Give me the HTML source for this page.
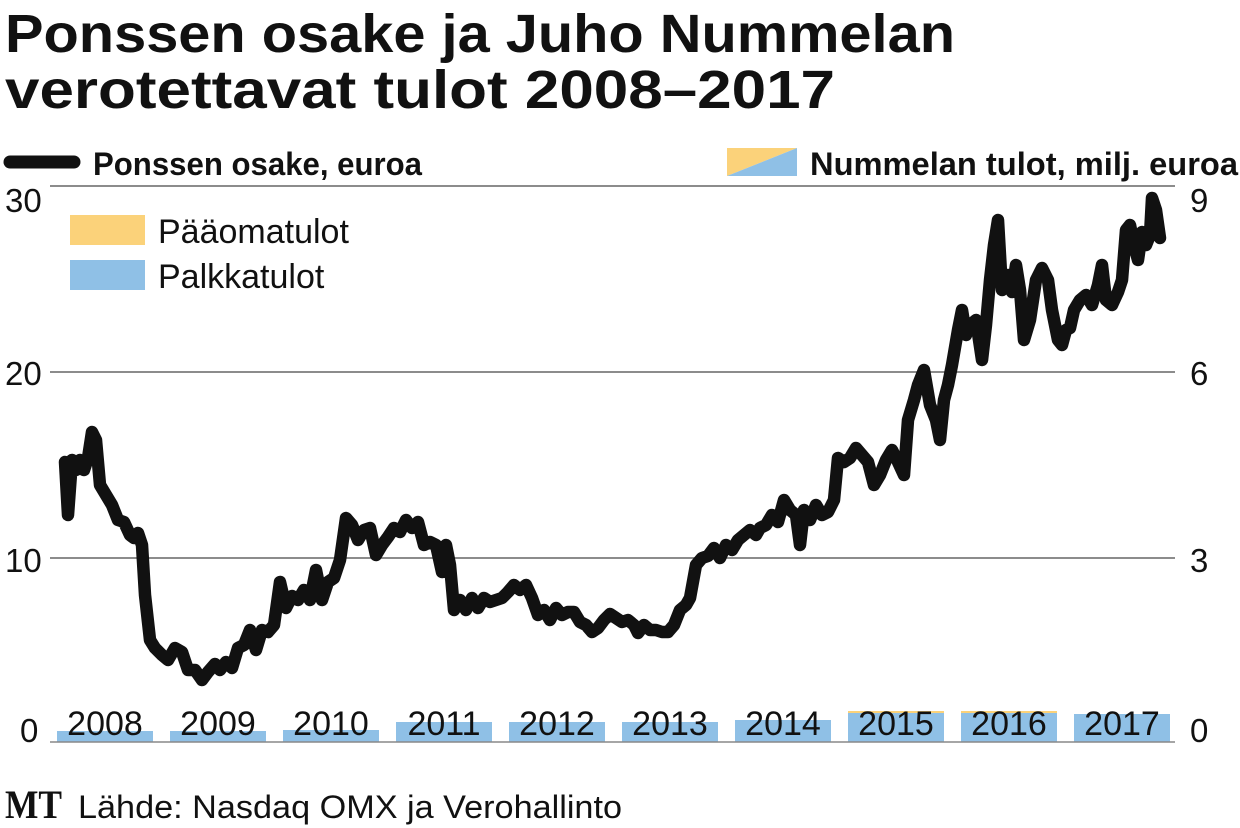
<!DOCTYPE html>
<html><head><meta charset="utf-8"><style>
html,body{margin:0;padding:0;background:#fff;}
svg{display:block;}
text{font-family:"Liberation Sans",sans-serif;fill:#111;}
</style></head><body>
<svg width="1240" height="828" viewBox="0 0 1240 828" xmlns="http://www.w3.org/2000/svg">
<text x="5" y="52" font-size="54" font-weight="bold" textLength="950" lengthAdjust="spacingAndGlyphs">Ponssen osake ja Juho Nummelan</text>
<text x="5" y="108" font-size="54" font-weight="bold" textLength="830" lengthAdjust="spacingAndGlyphs">verotettavat tulot 2008–2017</text>
<line x1="10" y1="162" x2="74" y2="162" stroke="#111" stroke-width="13" stroke-linecap="round"/>
<text x="93" y="175" font-size="32" font-weight="bold" textLength="329" lengthAdjust="spacingAndGlyphs">Ponssen osake, euroa</text>
<polygon points="727,148 797,148 727,176" fill="#fbd27a"/>
<polygon points="797,148 797,176 727,176" fill="#8fc0e6"/>
<text x="810" y="175" font-size="32" font-weight="bold" textLength="428" lengthAdjust="spacingAndGlyphs">Nummelan tulot, milj. euroa</text>
<g stroke="#666" stroke-width="1.5">
<line x1="50" y1="186" x2="1175" y2="186"/>
<line x1="50" y1="372" x2="1175" y2="372"/>
<line x1="50" y1="558" x2="1175" y2="558"/>
</g>
<g font-size="33">
<text x="5" y="212">30</text><text x="5" y="385">20</text><text x="5" y="572">10</text><text x="20" y="742">0</text>
<text x="1190" y="212">9</text><text x="1190" y="385">6</text><text x="1190" y="572">3</text><text x="1190" y="742">0</text>
</g>
<rect x="70" y="215" width="75" height="30" fill="#fbd27a"/>
<text x="158" y="243" font-size="34">Pääomatulot</text>
<rect x="70" y="260" width="75" height="30" fill="#8fc0e6"/>
<text x="158" y="288" font-size="34">Palkkatulot</text>
<g fill="#8fc0e6">
<rect x="57" y="731" width="96" height="11"/>
<rect x="170" y="731" width="96" height="11"/>
<rect x="283" y="730" width="96" height="12"/>
<rect x="396" y="722" width="96" height="20"/>
<rect x="509" y="722" width="96" height="20"/>
<rect x="622" y="722" width="96" height="20"/>
<rect x="735" y="720" width="96" height="22"/>
<rect x="848" y="713" width="96" height="29"/>
<rect x="961" y="713" width="96" height="29"/>
<rect x="1074" y="714" width="96" height="28"/>
</g>
<g fill="#fbd27a"><rect x="848" y="711" width="96" height="2"/><rect x="961" y="711" width="96" height="2"/></g>
<line x1="50" y1="742" x2="1175" y2="742" stroke="#888" stroke-width="1.5"/>
<g font-size="34" text-anchor="middle">
<text x="105" y="735">2008</text><text x="218" y="735">2009</text><text x="331" y="735">2010</text><text x="444" y="735">2011</text><text x="557" y="735">2012</text><text x="670" y="735">2013</text><text x="783" y="735">2014</text><text x="896" y="735">2015</text><text x="1009" y="735">2016</text><text x="1122" y="735">2017</text>
</g>
<polyline fill="none" stroke="#111" stroke-width="12.5" stroke-linejoin="round" stroke-linecap="round" points="65,462 68,515 72,460 76,470 80,460 84,470 88,458 92,432 96,440 100,485 106,495 112,505 118,520 124,522 130,535 134,538 138,533 142,545 145,595 150,640 155,648 162,655 168,660 175,648 182,652 188,670 195,670 202,680 208,672 215,664 220,670 226,662 232,668 238,648 244,645 250,630 256,650 262,630 268,632 274,625 280,582 286,608 292,596 298,600 304,590 310,600 316,570 322,600 328,582 334,578 340,560 346,518 352,525 358,540 364,530 370,528 376,555 382,545 388,537 394,528 400,532 406,520 412,528 418,522 424,545 430,542 436,545 442,572 446,545 450,565 454,610 460,600 466,610 472,598 478,608 484,598 490,602 496,600 502,598 508,592 514,585 520,590 526,585 532,598 538,615 544,610 550,620 556,608 562,615 568,612 574,612 580,622 586,625 592,632 598,628 604,620 610,614 616,618 622,622 628,620 634,625 638,633 644,625 650,630 656,630 662,632 668,632 674,625 680,610 686,605 690,598 696,565 702,558 708,556 714,548 720,558 726,545 732,550 738,540 744,535 750,530 756,535 760,528 766,525 772,515 778,522 784,500 790,510 796,515 800,545 804,510 810,520 816,505 822,515 828,512 834,500 838,458 844,462 850,458 856,448 862,455 868,462 874,485 880,475 886,460 892,450 898,462 904,475 908,420 914,400 918,385 924,370 930,405 936,420 940,440 944,400 948,385 952,365 958,330 962,310 966,335 970,325 976,320 982,360 986,325 990,280 994,245 998,220 1002,290 1008,275 1012,292 1016,265 1020,290 1024,340 1030,320 1036,280 1042,268 1048,280 1052,310 1058,340 1062,345 1066,330 1070,328 1074,310 1080,300 1086,295 1092,305 1098,285 1102,265 1106,300 1112,305 1118,292 1122,280 1126,230 1130,225 1134,245 1138,260 1142,232 1146,245 1150,235 1152,198 1156,210 1160,238"/>
<text x="5" y="818" font-size="40" font-weight="bold" style="font-family:'Liberation Serif',serif" textLength="57" lengthAdjust="spacingAndGlyphs">MT</text>
<text x="78" y="818" font-size="32" textLength="544" lengthAdjust="spacingAndGlyphs">Lähde: Nasdaq OMX ja Verohallinto</text>
</svg>
</body></html>
